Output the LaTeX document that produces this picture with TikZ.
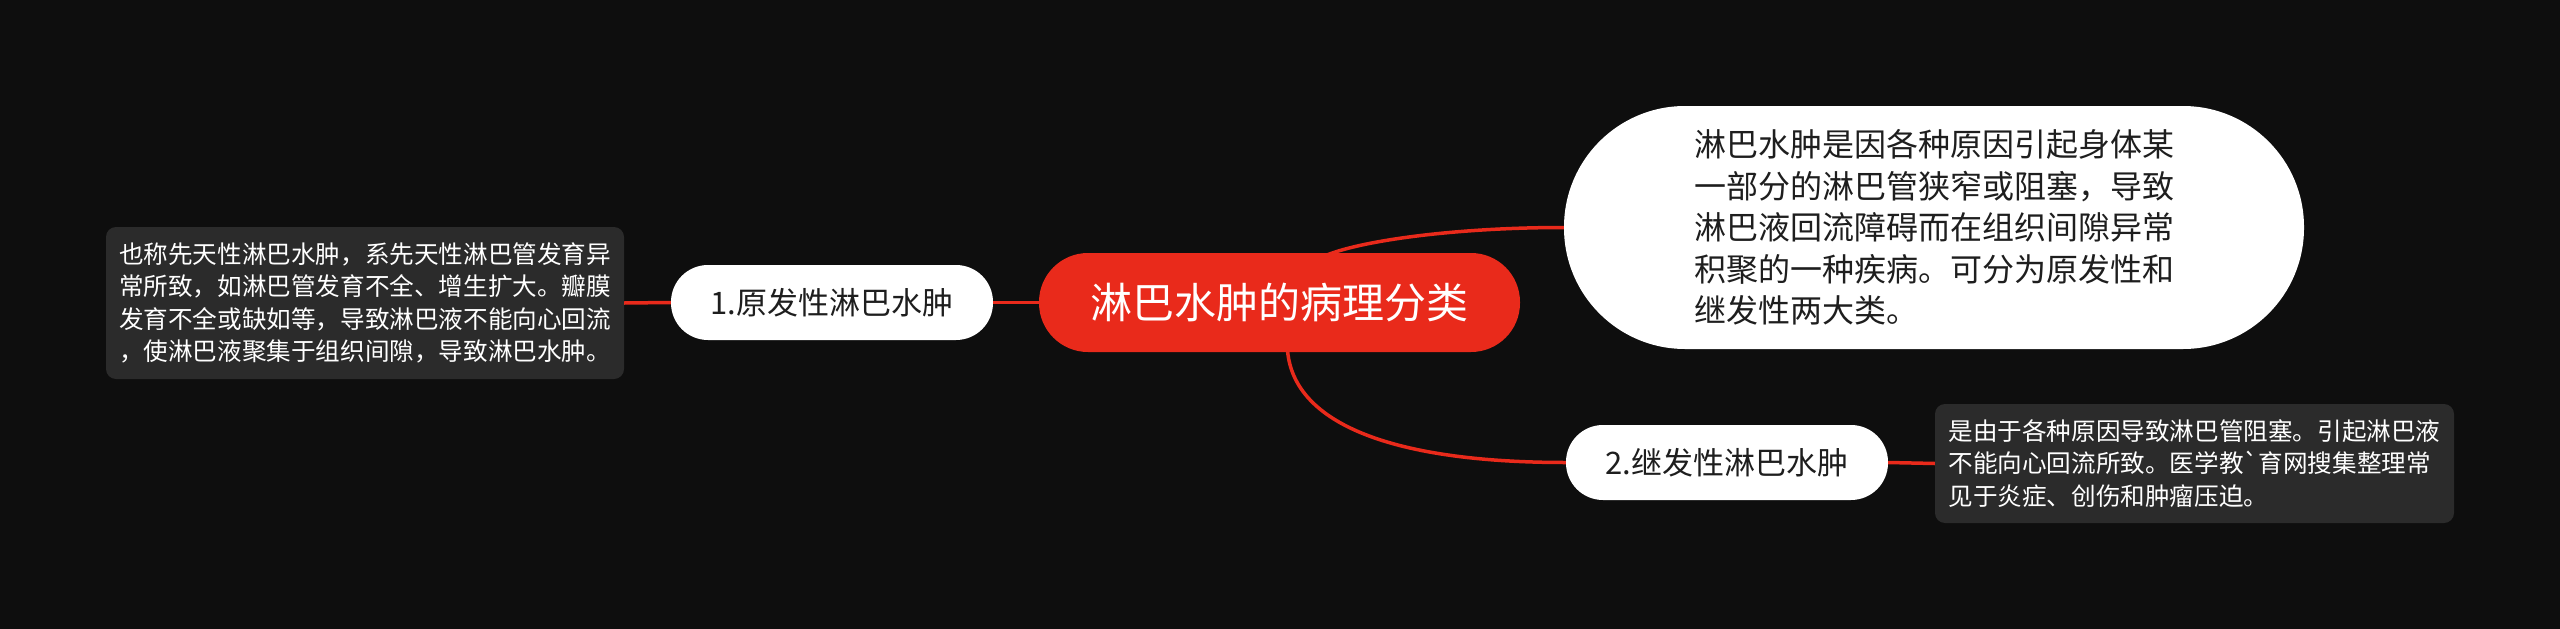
\documentclass[tikz,border=0pt]{standalone}
\usepackage{fontspec}
\newfontfamily\cjk{Noto Sans CJK SC}
\definecolor{bgc}{HTML}{0E0E0E}
\definecolor{redc}{HTML}{E92A1B}
\definecolor{descc}{HTML}{2B2B2B}
\definecolor{darktext}{HTML}{1E1E1E}
\tikzset{
  root/.style={rectangle, rounded corners=49pt, fill=redc, text=white, minimum width=481pt, minimum height=99pt, inner sep=0pt, font=\cjk\fontsize{42pt}{50pt}\selectfont},
  branch/.style={rectangle, rounded corners=37pt, fill=white, text=darktext, minimum width=322pt, minimum height=75pt, inner sep=0pt, font=\cjk\fontsize{31pt}{38pt}\selectfont},
  bigwhite/.style={rectangle, rounded corners=121pt, fill=white, text=darktext, minimum width=740pt, minimum height=243pt, inner sep=0pt, align=left, font=\cjk\fontsize{32pt}{41.6pt}\selectfont},
  desc/.style={rectangle, rounded corners=10pt, fill=descc, text=white, inner sep=0pt, align=left, font=\cjk\fontsize{24.6pt}{32.5pt}\selectfont},
  link/.style={draw=redc, line width=3.5pt}
}
\begin{document}
\begin{tikzpicture}[x=1pt,y=-1pt]
\fill[bgc] (0,0) rectangle (2560,629);
\useasboundingbox (0,0) rectangle (2560,629);

\node[root] (c) at (1279.5,302.5) {淋巴水肿的病理分类};
\node[branch] (n1) at (832,302.5) {1.原发性淋巴水肿};
\node[branch] (n2) at (1727,462.5) {2.继发性淋巴水肿};
\node[bigwhite] (tr) at (1934,227.5) {淋巴水肿是因各种原因引起身体某\\一部分的淋巴管狭窄或阻塞，导致\\淋巴液回流障碍而在组织间隙异常\\积聚的一种疾病。可分为原发性和\\继发性两大类。};
\node[desc, minimum width=518pt, minimum height=152pt] (d1) at (365,303) {也称先天性淋巴水肿，系先天性淋巴管发育异\\常所致，如淋巴管发育不全、增生扩大。瓣膜\\发育不全或缺如等，导致淋巴液不能向心回流\\，使淋巴液聚集于组织间隙，导致淋巴水肿。};
\node[desc, minimum width=519pt, minimum height=119pt] (d2) at (2194.5,463.5) {是由于各种原因导致淋巴管阻塞。引起淋巴液\\不能向心回流所致。医学教`育网搜集整理常\\见于炎症、创伤和肿瘤压迫。};

\draw[link] (n1.east) -- (c.west);
\draw[link] (d1.east) -- (n1.west);
\draw[link] (n2.east) -- (d2.west);
\draw[link] ([xshift=48pt,yshift=-2pt]c.north) .. controls +(35,-14) and +(-110,0) .. (tr.west);
\draw[link] ([xshift=8pt,yshift=2pt]c.south) .. controls +(6,75) and +(-170,0) .. (n2.west);
\end{tikzpicture}
\end{document}
